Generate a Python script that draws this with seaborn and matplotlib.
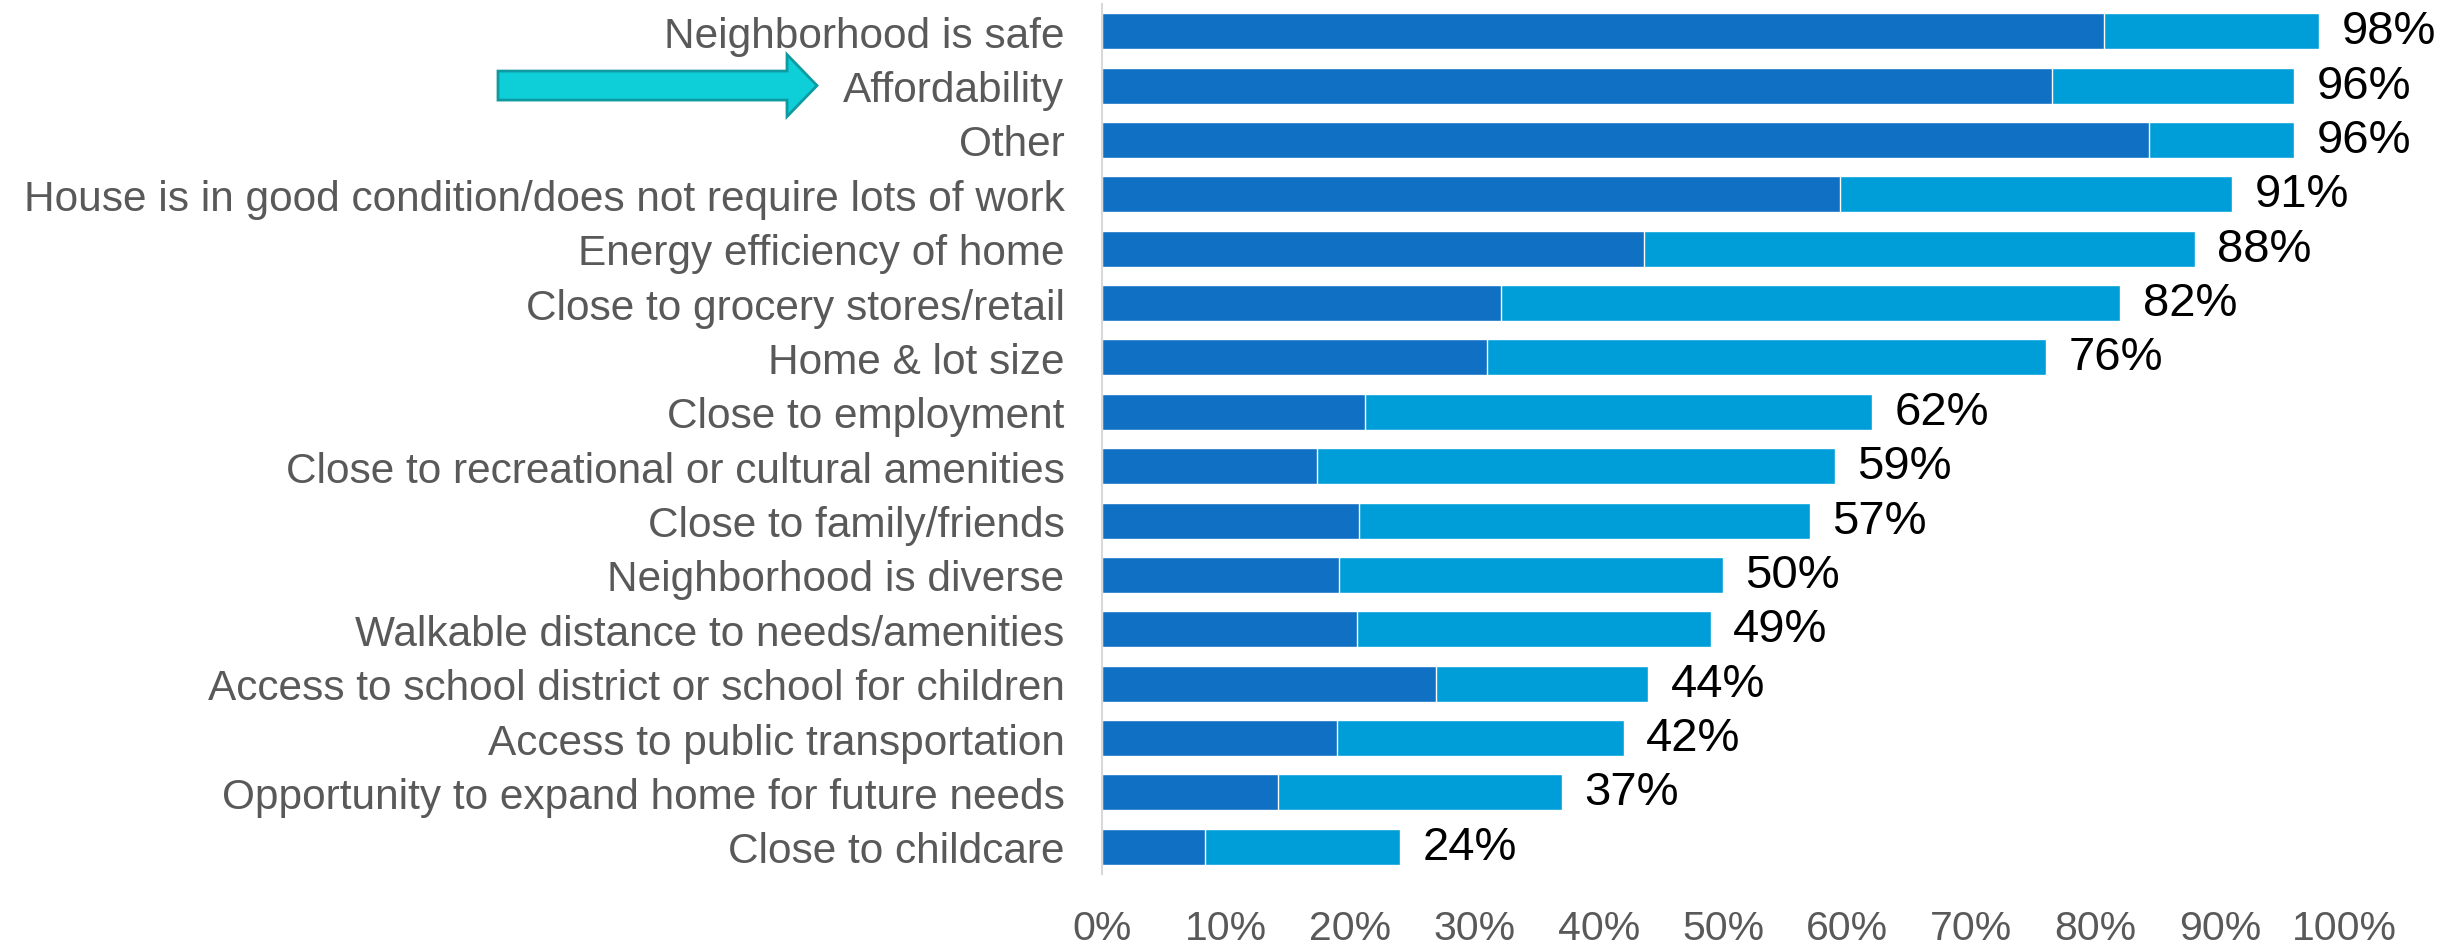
import matplotlib
matplotlib.use("Agg")
import matplotlib.pyplot as plt
from matplotlib.patches import FancyArrow
import pandas as pd
import seaborn as sns

# Share of respondents rating each factor as important, in percent
factors = [
    "Neighborhood is safe",
    "Affordability",
    "Other",
    "House is in good condition/does not require lots of work",
    "Energy efficiency of home",
    "Close to grocery stores/retail",
    "Home & lot size",
    "Close to employment",
    "Close to recreational or cultural amenities",
    "Close to family/friends",
    "Neighborhood is diverse",
    "Walkable distance to needs/amenities",
    "Access to school district or school for children",
    "Access to public transportation",
    "Opportunity to expand home for future needs",
    "Close to childcare",
]
very_important = [80.7, 76.5, 84.3, 59.4, 43.6, 32.1, 31.0, 21.2, 17.3, 20.7,
                  19.1, 20.5, 26.9, 18.9, 14.2, 8.3]
total_important = [98, 96, 96, 91, 88, 82, 76, 62, 59, 57, 50, 49, 44, 42, 37, 24]
x_ticks = list(range(0, 101, 10))

DARK = "#1070C4"
LIGHT = "#009ED8"
GRAY = "#595959"

df = pd.DataFrame({"factor": factors, "very": very_important, "total": total_important})

sns.set_theme(style="white")
plt.rcParams["font.family"] = ["Liberation Sans", "DejaVu Sans"]

W, H = 2446, 945
fig = plt.figure(figsize=(W / 100, H / 100), dpi=100)
ax = fig.add_axes([1102 / W, (H - 875) / H, (2344 - 1102) / W, 870 / H])

# Total (somewhat + very important) underneath, very important on top
sns.barplot(data=df, y="factor", x="total", orient="h", color=LIGHT,
            saturation=1, width=0.66, errorbar=None, ax=ax)
sns.barplot(data=df, y="factor", x="very", orient="h", color=DARK,
            saturation=1, width=0.66, errorbar=None, ax=ax)

ax.set_xlim(0, 100)
ax.set_ylim(len(factors) - 0.5, -0.5)
ax.set_xticks(x_ticks)
ax.set_xticklabels([f"{v}%" for v in x_ticks])
ax.set_xlabel("")
ax.set_ylabel("")
ax.tick_params(axis="x", length=0, pad=25, labelsize=29.5, labelcolor=GRAY)
ax.tick_params(axis="y", length=0, pad=27, labelsize=30.5, labelcolor=GRAY)
for side in ("top", "right", "bottom"):
    ax.spines[side].set_visible(False)
ax.spines["left"].set_color("#D9D9D9")
ax.spines["left"].set_linewidth(1.5)
ax.grid(False)

for i, t in enumerate(total_important):
    ax.text(t + 1.8, i, f"{t}%", ha="left", va="center", fontsize=34,
            color="black", clip_on=False)

# Call-out arrow pointing at the Affordability row
row_y = ax.transData.transform((0, factors.index("Affordability")))[1] / fig.dpi
arrow = FancyArrow(4.98, row_y, 3.19, 0, width=0.29, head_width=0.62,
                   head_length=0.30, length_includes_head=True,
                   transform=fig.dpi_scale_trans, facecolor="#0ECFD8",
                   edgecolor="#0E9AA0", linewidth=2)
fig.add_artist(arrow)

fig.savefig("out.png", dpi=100)
